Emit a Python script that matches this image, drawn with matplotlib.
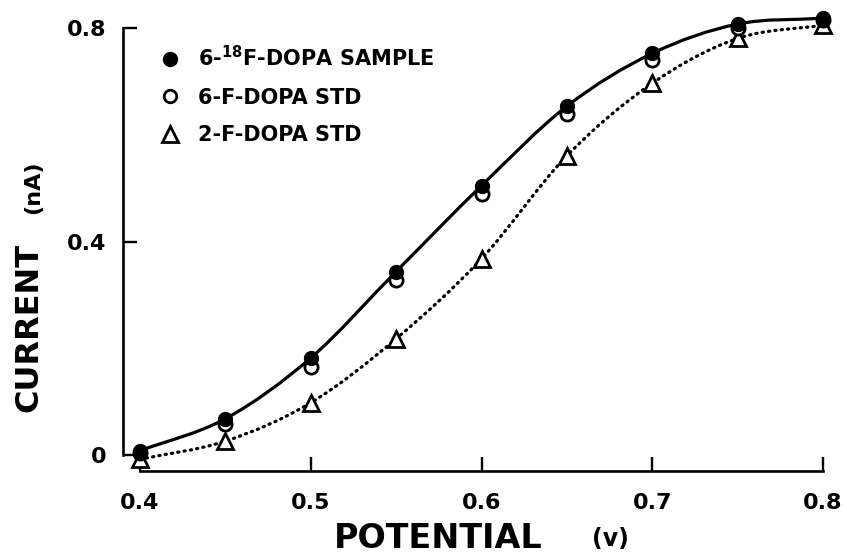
import numpy as np
import matplotlib
matplotlib.use("Agg")
import matplotlib.pyplot as plt
from matplotlib.path import Path
from matplotlib.patches import PathPatch
from matplotlib.lines import Line2D

# ---- data ----
potential = [0.40, 0.45, 0.50, 0.55, 0.60, 0.65, 0.70, 0.75, 0.80]
sample_18f = [0.008, 0.068, 0.182, 0.344, 0.505, 0.654, 0.753, 0.808, 0.819]
std_6f = [0.003, 0.058, 0.165, 0.329, 0.490, 0.640, 0.740, 0.800, 0.815]
std_2f = [-0.008, 0.026, 0.098, 0.218, 0.368, 0.561, 0.697, 0.781, 0.806]
xticks = [0.4, 0.5, 0.6, 0.7, 0.8]
xticklabels = ["0.4", "0.5", "0.6", "0.7", "0.8"]
yticks = [0.0, 0.4, 0.8]
yticklabels = ["0", "0.4", "0.8"]
labels = [r"6-$^{\mathbf{18}}$F-DOPA SAMPLE", "6-F-DOPA STD", "2-F-DOPA STD"]

plt.rcParams['font.family'] = ['DejaVu Sans']
plt.rcParams['font.weight'] = 'bold'
plt.rcParams['mathtext.default'] = 'bf'

W, H = 847, 557
fig = plt.figure(figsize=(W / 100, H / 100), dpi=100)
ax = fig.add_axes([123 / W, 1 - 471 / H, (843.5 - 123) / W, (471 - 7) / H])
ax.set_xlim(0.39004, 0.812)
ax.set_ylim(-0.030, 0.84)


def smooth_path(xs, ys):
    xs = np.asarray(xs, float)
    ys = np.asarray(ys, float)
    n = len(xs)
    # Catmull-Rom tangents -> cubic Bezier segments (drawn by matplotlib)
    m = np.zeros(n)
    for i in range(n):
        if i == 0:
            m[i] = (ys[1] - ys[0]) / (xs[1] - xs[0])
        elif i == n - 1:
            m[i] = (ys[-1] - ys[-2]) / (xs[-1] - xs[-2])
        else:
            m[i] = (ys[i + 1] - ys[i - 1]) / (xs[i + 1] - xs[i - 1])
    verts = [(xs[0], ys[0])]
    codes = [Path.MOVETO]
    for i in range(n - 1):
        h = xs[i + 1] - xs[i]
        verts += [(xs[i] + h / 3, ys[i] + m[i] * h / 3),
                  (xs[i + 1] - h / 3, ys[i + 1] - m[i + 1] * h / 3),
                  (xs[i + 1], ys[i + 1])]
        codes += [Path.CURVE4] * 3
    return Path(verts, codes)


ax.add_patch(PathPatch(smooth_path(potential, sample_18f), fill=False,
                       edgecolor='black', lw=2.3, capstyle='round', zorder=2))
ax.add_patch(PathPatch(smooth_path(potential, std_2f), fill=False,
                       edgecolor='black', lw=2.3, linestyle=(0, (0.4, 1.6)),
                       capstyle='round', zorder=2))

ax.plot(potential, std_2f, linestyle='none', marker='^', ms=11,
        mfc='white', mec='black', mew=2.0, zorder=3, clip_on=False)
ax.plot(potential, std_6f, linestyle='none', marker='o', ms=9.5,
        mfc='white', mec='black', mew=2.0, zorder=4, clip_on=False)
ax.plot(potential, sample_18f, linestyle='none', marker='o', ms=10,
        mfc='black', mec='black', mew=1, zorder=5, clip_on=False)

# spines
for s in ['top', 'right']:
    ax.spines[s].set_visible(False)
for s in ['left', 'bottom']:
    ax.spines[s].set_linewidth(1.9)
ax.spines['left'].set_bounds(0.0, 0.8)
ax.spines['bottom'].set_bounds(0.4, 0.8)

ax.set_xticks(xticks)
ax.set_xticklabels(xticklabels)
ax.set_yticks(yticks)
ax.set_yticklabels(yticklabels)
ax.tick_params(axis='both', direction='in', length=10, width=1.7,
               labelsize=16)
ax.tick_params(axis='x', pad=16)
ax.tick_params(axis='y', pad=12)
for t in ax.get_xticklabels() + ax.get_yticklabels():
    t.set_fontweight('bold')

# legend
handles = [
    Line2D([], [], linestyle='none', marker='o', ms=10, mfc='black', mec='black'),
    Line2D([], [], linestyle='none', marker='o', ms=9, mfc='white', mec='black', mew=2.0),
    Line2D([], [], linestyle='none', marker='^', ms=11, mfc='white', mec='black', mew=2.0),
]
leg = ax.legend(handles, labels, loc='upper left', bbox_to_anchor=(0.03, 0.95),
                frameon=False, prop={'size': 15, 'weight': 'bold'},
                handletextpad=0.85, labelspacing=0.85, handlelength=1.0,
                borderpad=0.2)

# axis labels
fig.text(438 / W, 1 - 539 / H, "POTENTIAL", ha='center', va='center',
         fontsize=24, fontweight='bold')
fig.text(610 / W, 1 - 539 / H, "(v)", ha='center', va='center',
         fontsize=17, fontweight='bold')
fig.text(29 / W, 1 - 328 / H, "CURRENT", ha='center', va='center',
         rotation=90, fontsize=23, fontweight='bold')
fig.text(33 / W, 1 - 187 / H, "(nA)", ha='center', va='center',
         rotation=90, fontsize=16, fontweight='bold')

fig.savefig("out.png", dpi=100)
